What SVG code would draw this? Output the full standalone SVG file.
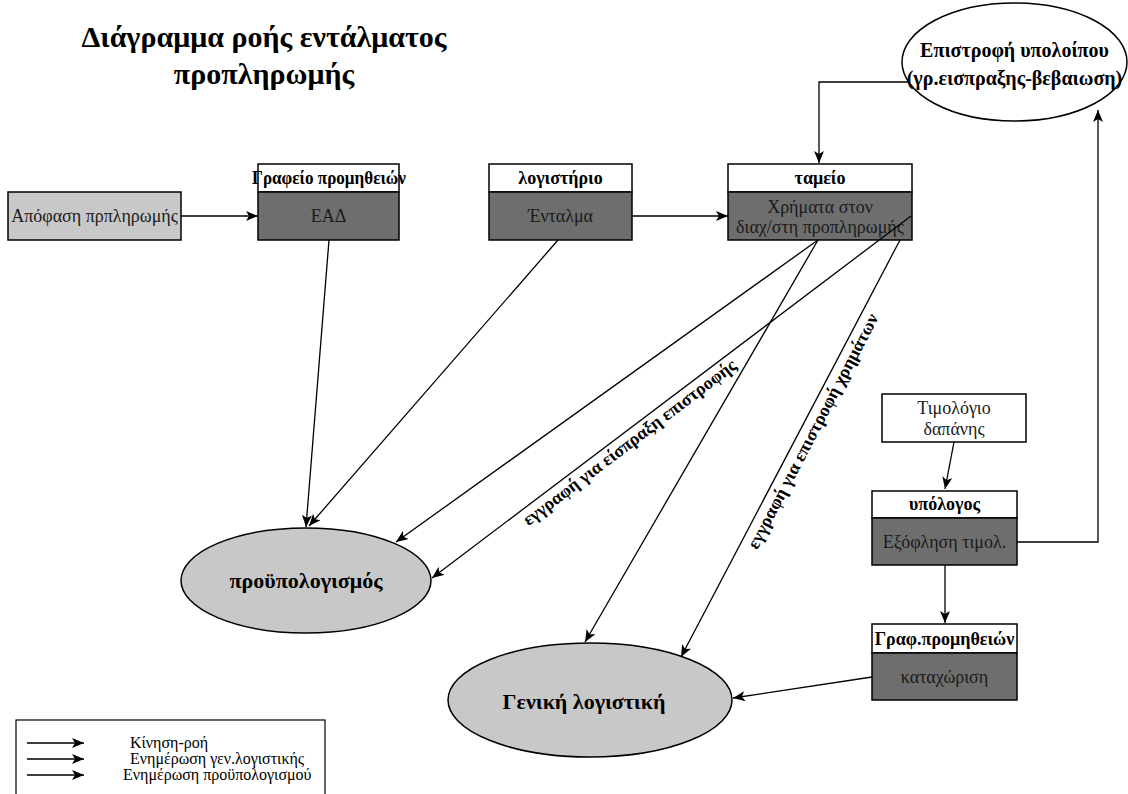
<svg xmlns="http://www.w3.org/2000/svg" width="1128" height="794" viewBox="0 0 1128 794">
  <style>
    .box { stroke: #000; stroke-width: 1.5; }
    .light { fill: #c8c8c8; }
    .dark { fill: #6e6e6e; }
    .white { fill: #fff; }
    text { font-family: "Liberation Serif", "DejaVu Serif", serif; }
    .hdr { font-weight: bold; font-size: 18px; fill: #000; text-anchor: middle; }
    .body { font-size: 18px; fill: #1a1a1a; text-anchor: middle; }
    .ell { font-weight: bold; fill: #000; text-anchor: middle; }
    .lbl { font-weight: bold; font-size: 18px; fill: #000; text-anchor: middle; }
    .leg { font-size: 16px; fill: #000; }
    .conn { fill: none; stroke: #000; stroke-width: 1.3; }
    .arr { marker-end: url(#ah); }
  </style>
  <defs>
    <marker id="ah" viewBox="0 0 12 10" refX="12" refY="5" markerWidth="12" markerHeight="10" markerUnits="userSpaceOnUse" orient="auto">
      <path d="M0,0 L12,5 L0,10 L3,5 z" fill="#000"/>
    </marker>
  </defs>

  <!-- title -->
  <g id="title">
    <text x="264" y="47" class="ell" font-size="30">Διάγραμμα ροής εντάλματος</text>
    <text x="264" y="84" class="ell" font-size="30">προπληρωμής</text>
  </g>

  <!-- decision box -->
  <g id="apofasi">
    <rect x="8" y="192" width="173" height="48" class="box light"/>
    <text x="94.5" y="222" class="body">Απόφαση πρπληρωμής</text>
  </g>

  <!-- supplies office -->
  <g id="grafeio">
    <rect x="258" y="164" width="141" height="28" class="box white"/>
    <rect x="258" y="192" width="141" height="48" class="box dark"/>
    <text x="329" y="184" class="hdr" font-size="17" textLength="154" lengthAdjust="spacingAndGlyphs">Γραφείο προμηθειών</text>
    <text x="328.5" y="222" class="body">ΕΑΔ</text>
  </g>

  <!-- accounting -->
  <g id="logistirio">
    <rect x="489" y="164" width="143" height="28" class="box white"/>
    <rect x="489" y="192" width="143" height="48" class="box dark"/>
    <text x="560.5" y="184" class="hdr">λογιστήριο</text>
    <text x="560.5" y="222" class="body">Ένταλμα</text>
  </g>

  <!-- cashier -->
  <g id="tameio">
    <rect x="728" y="164" width="184" height="28" class="box white"/>
    <rect x="728" y="192" width="184" height="48" class="box dark"/>
    <text x="820" y="184" class="hdr">ταμείο</text>
    <text x="820" y="213" class="body">Χρήματα στον</text>
    <text x="820" y="233" class="body">διαχ/στη προπληρωμής</text>
  </g>

  <!-- refund of balance -->
  <g id="epistrofi">
    <ellipse cx="1014.5" cy="62" rx="112.5" ry="59" class="box white"/>
    <text x="1014.5" y="57" class="ell" font-size="20">Επιστροφή υπολοίπου</text>
    <text x="1014.5" y="85" class="ell" font-size="20">(γρ.εισπραξης-βεβαιωση)</text>
  </g>

  <!-- invoice -->
  <g id="timologio">
    <rect x="882" y="394" width="144" height="48" class="box white"/>
    <text x="954" y="414" class="body">Τιμολόγιο</text>
    <text x="954" y="435" class="body">δαπάνης</text>
  </g>

  <!-- accountable person -->
  <g id="ypologos">
    <rect x="872" y="491" width="145" height="27" class="box white"/>
    <rect x="872" y="518" width="145" height="47" class="box dark"/>
    <text x="944.5" y="510" class="hdr">υπόλογος</text>
    <text x="944.5" y="548" class="body">Εξόφληση τιμολ.</text>
  </g>

  <!-- supplies office registration -->
  <g id="graf-prom">
    <rect x="872" y="624" width="145" height="29" class="box white"/>
    <rect x="872" y="653" width="145" height="47" class="box dark"/>
    <text x="944.5" y="645" class="hdr">Γραφ.προμηθειών</text>
    <text x="944.5" y="683" class="body">καταχώριση</text>
  </g>

  <!-- budget -->
  <g id="proypologismos">
    <ellipse cx="306" cy="580.5" rx="125" ry="52.5" class="box light"/>
    <text x="306" y="588" class="ell" font-size="22">προϋπολογισμός</text>
  </g>

  <!-- general ledger -->
  <g id="geniki">
    <ellipse cx="590" cy="700" rx="142" ry="57" class="box light"/>
    <text x="584" y="709" class="ell" font-size="22">Γενική λογιστική</text>
  </g>

  <!-- connectors -->
  <g id="connectors">
    <line x1="181" y1="216" x2="258" y2="216" class="conn arr"/>
    <line x1="632" y1="216" x2="728" y2="216" class="conn arr"/>
    <polyline points="909,82 819,82 819,163" class="conn arr"/>
    <line x1="329" y1="240" x2="306" y2="527" class="conn arr"/>
    <line x1="558" y1="240" x2="309" y2="526" class="conn arr"/>
    <line x1="818" y1="240" x2="396" y2="542" class="conn arr"/>
    <line x1="818" y1="240" x2="585" y2="642" class="conn arr"/>
    <line x1="911" y1="216" x2="432" y2="578" class="conn arr"/>
    <line x1="900" y1="240" x2="681" y2="657" class="conn arr"/>
    <line x1="954" y1="442" x2="945" y2="489" class="conn arr"/>
    <line x1="945" y1="565" x2="945" y2="623" class="conn arr"/>
    <polyline points="1017,542 1098,542 1098,110" class="conn arr"/>
    <line x1="872" y1="677" x2="733" y2="698" class="conn arr"/>
    <text transform="translate(633,447) rotate(-37.2)" class="lbl">εγγραφή για είσπραξη επιστροφής</text>
    <text transform="translate(818,434) rotate(-62.4)" class="lbl">εγγραφή για επιστροφή χρημάτων</text>
  </g>

  <!-- legend -->
  <g id="legend">
    <rect x="16" y="720" width="309" height="80" fill="#fff" stroke="#000" stroke-width="1.2"/>
    <line x1="27" y1="743" x2="84" y2="743" class="conn arr"/>
    <line x1="27" y1="759" x2="84" y2="759" class="conn arr"/>
    <line x1="27" y1="775" x2="84" y2="775" class="conn arr"/>
    <text x="130" y="748" class="leg">Κίνηση-ροή</text>
    <text x="130" y="764" class="leg">Ενημέρωση γεν.λογιστικής</text>
    <text x="123" y="780" class="leg">Ενημέρωση προϋπολογισμού</text>
  </g>
</svg>
